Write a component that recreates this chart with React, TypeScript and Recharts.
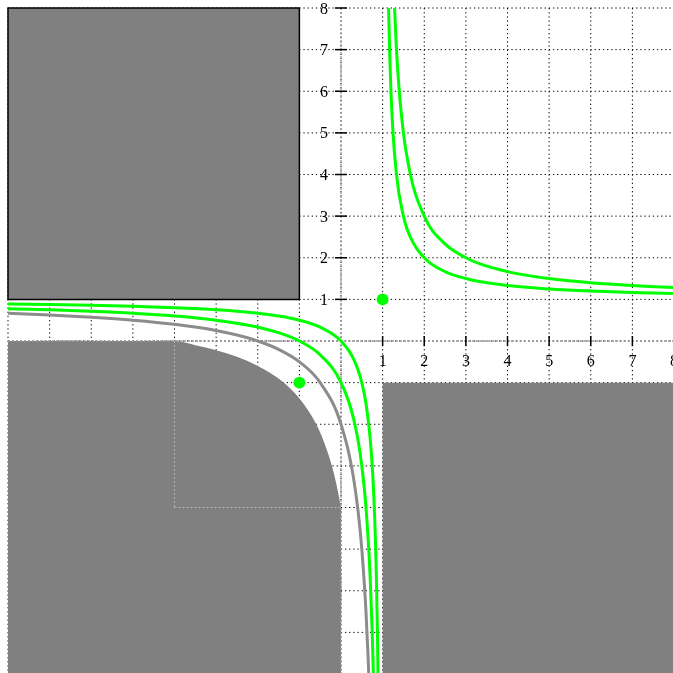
import {
  Area,
  CartesianGrid,
  ComposedChart,
  Line,
  ReferenceArea,
  ReferenceLine,
  Scatter,
  XAxis,
  YAxis,
} from "recharts";

// grid runs at every integer, labels only on the positive half-axes
const GRID_TICKS = [-8, -7, -6, -5, -4, -3, -2, -1, 0, 1, 2, 3, 4, 5, 6, 7, 8];
const AXIS_LABELS = [1, 2, 3, 4, 5, 6, 7, 8];

// green hyperbola A (asymptotes x=1, y=1), both branches
const curveAUpperX = [1.143, 1.167, 1.2, 1.25, 1.333, 1.5, 1.75, 2, 2.5, 3, 4, 5, 6, 7, 8];
const curveAUpperY = [8, 7, 6, 5, 4, 3, 2.333, 2, 1.667, 1.5, 1.333, 1.25, 1.2, 1.167, 1.143];
const curveALowerX = [-8, -7, -6, -5, -4, -3, -2, -1.5, -1, -0.5, 0, 0.2, 0.3, 0.4, 0.5, 0.6, 0.7, 0.75, 0.8, 0.85, 0.875, 0.889];
const curveALowerY = [0.889, 0.875, 0.857, 0.833, 0.8, 0.75, 0.667, 0.6, 0.5, 0.333, 0, -0.25, -0.429, -0.667, -1, -1.5, -2.333, -3, -4, -5.667, -7, -8];

// green hyperbola B, wider
const curveBUpperX = [1.286, 1.333, 1.4, 1.5, 1.667, 2, 2.5, 3, 4, 5, 6, 7, 8];
const curveBUpperY = [8, 7, 6, 5, 4, 3, 2.333, 2, 1.667, 1.5, 1.4, 1.333, 1.286];
const curveBLowerX = [-8, -7, -6, -5, -4, -3, -2, -1.5, -1, -0.5, 0, 0.2, 0.3, 0.4, 0.5, 0.6, 0.7, 0.75, 0.778];
const curveBLowerY = [0.778, 0.75, 0.714, 0.667, 0.6, 0.5, 0.333, 0.2, 0, -0.333, -1, -1.5, -1.857, -2.333, -3, -4, -5.667, -7, -8];

// gray curve, lower-left branch only
const curveCX = [-8, -7, -6, -5, -4, -3, -2, -1.5, -1, -0.5, 0, 0.2, 0.3, 0.4, 0.5, 0.6, 0.65, 0.667];
const curveCY = [0.667, 0.625, 0.571, 0.5, 0.4, 0.25, 0, -0.2, -0.5, -1, -2, -2.75, -3.286, -4, -5, -6.5, -7.571, -8];

// rounded top edge of the lower-left gray region
const regionX = [-8, -4, -3.5, -3, -2.5, -2, -1.7, -1.4, -1.2, -1, -0.8, -0.6, -0.4, -0.2, -0.1, 0];
const regionY = [0, 0, -0.1, -0.22, -0.38, -0.6, -0.77, -0.98, -1.16, -1.38, -1.65, -1.99, -2.45, -3.07, -3.49, -4];

// marked points
const dotX = [1, -1];
const dotY = [1, -1];

const GREEN = "#00ff00";
const GRAY = "#808080";
const FONT = "'Liberation Serif', 'DejaVu Serif', serif";

const zip = (xs: number[], ys: number[]) => xs.map((x, i) => ({ x, y: ys[i] }));

function YTick(props: any) {
  const { cx, cy, payload } = props;
  return (
    <g>
      <line x1={cx - 6} y1={cy} x2={cx + 6} y2={cy} stroke="#000" strokeWidth={1.5} />
      <text x={cx - 13} y={cy + 5.5} textAnchor="end" fontSize={16} fontFamily={FONT} fill="#000">
        {payload.y}
      </text>
    </g>
  );
}

function XTick(props: any) {
  const { cx, cy, payload } = props;
  return (
    <g>
      <line x1={cx} y1={cy - 5} x2={cx} y2={cy + 5} stroke="#000" strokeWidth={1.5} />
      <text x={cx} y={cy + 25} textAnchor="middle" fontSize={16} fontFamily={FONT} fill="#000">
        {payload.x}
      </text>
    </g>
  );
}

function Dot(props: any) {
  const { cx, cy } = props;
  return <circle cx={cx} cy={cy} r={6} fill={GREEN} />;
}

export default function App() {
  const pad = 8;
  const size = 666 + 2 * pad;
  const lineProps = { type: "monotone" as const, dataKey: "y", dot: false, activeDot: false, isAnimationActive: false, strokeWidth: 3 };
  return (
    <div style={{ position: "fixed", left: 0, top: 0, width: size, height: size }}>
      <style>{"html,body{overflow:hidden}"}</style>
      <ComposedChart width={size} height={size} margin={{ top: pad, right: pad, bottom: pad, left: pad }}>
        <XAxis type="number" dataKey="x" domain={[-8, 8]} ticks={GRID_TICKS} hide />
        <YAxis type="number" dataKey="y" domain={[-8, 8]} ticks={GRID_TICKS} hide />
        <CartesianGrid stroke="#000" strokeDasharray="1.3 2.86" strokeWidth={1} />

        <ReferenceArea x1={-8} x2={-1} y1={1} y2={8} fill={GRAY} fillOpacity={1} stroke="#000" strokeWidth={1.5} />
        <ReferenceArea x1={1} x2={8} y1={-8} y2={-1} fill={GRAY} fillOpacity={1} />
        <Area
          data={zip(regionX, regionY)}
          type="monotone"
          dataKey="y"
          baseValue={-8}
          fill={GRAY}
          fillOpacity={1}
          stroke="none"
          dot={false}
          activeDot={false}
          isAnimationActive={false}
        />

        <ReferenceLine segment={[{ x: -4, y: 0 }, { x: -4, y: -4 }]} stroke="#b4b4b4" strokeDasharray="2 2" />
        <ReferenceLine segment={[{ x: -4, y: -4 }, { x: 0, y: -4 }]} stroke="#b4b4b4" strokeDasharray="2 2" />
        <ReferenceLine x={0} stroke="#999" strokeWidth={1.3} strokeDasharray="2 2" />
        <ReferenceLine y={0} stroke="#999" strokeWidth={1.3} strokeDasharray="2 2" />

        <Line data={zip(curveCX, curveCY)} stroke="#8c8c8c" {...lineProps} />
        <Line data={zip(curveBLowerX, curveBLowerY)} stroke={GREEN} {...lineProps} />
        <Line data={zip(curveALowerX, curveALowerY)} stroke={GREEN} {...lineProps} />
        <Line data={zip(curveAUpperX, curveAUpperY)} stroke={GREEN} {...lineProps} />
        <Line data={zip(curveBUpperX, curveBUpperY)} stroke={GREEN} {...lineProps} />

        <Scatter data={AXIS_LABELS.map((v) => ({ x: 0, y: v }))} dataKey="y" shape={<YTick />} isAnimationActive={false} />
        <Scatter data={AXIS_LABELS.map((v) => ({ x: v, y: 0 }))} dataKey="y" shape={<XTick />} isAnimationActive={false} />
        <Scatter data={zip(dotX, dotY)} dataKey="y" shape={<Dot />} isAnimationActive={false} />
      </ComposedChart>
    </div>
  );
}
